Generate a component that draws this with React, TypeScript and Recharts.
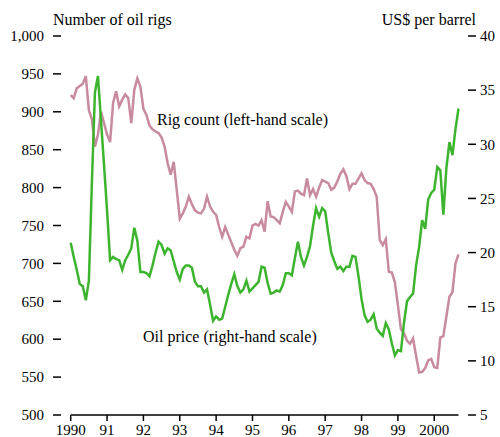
import { Line, LineChart, XAxis, YAxis } from 'recharts';

const FONT = '"Liberation Serif", "Times New Roman", serif';
const RIG_COLOR = '#c78a9f';
const OIL_COLOR = '#3db42e';

// month index 0 = Jan 1990
const YEAR_TICKS = [0, 12, 24, 36, 48, 60, 72, 84, 96, 108, 120];
const YEAR_LABELS = ['1990', '91', '92', '93', '94', '95', '96', '97', '98', '99', '2000'];
const RIG_TICKS = [500, 550, 600, 650, 700, 750, 800, 850, 900, 950, 1000];
const OIL_TICKS = [5, 10, 15, 20, 25, 30, 35, 40];

// number of oil rigs, monthly
const RIGS = [
  922, 918, 931, 934, 937, 947, 902, 890, 854, 870, 900, 885,
  870, 860, 912, 927, 907, 916, 923, 918, 885, 929, 944, 933,
  904, 896, 882, 877, 874, 872, 866, 854, 832, 817, 834, 797,
  759, 766, 775, 788, 778, 770, 767, 766, 772, 788, 775, 768,
  764, 748, 735, 748, 738, 728, 718, 710, 720, 722, 735, 733,
  750, 752, 750, 757, 742, 782, 762, 761, 757, 753, 768, 781,
  775, 768, 795, 796, 792, 790, 812, 790, 798, 788, 800, 810,
  808, 806, 797, 800, 808, 818, 824, 815, 798, 805, 805, 812,
  819, 810, 806, 805, 798, 788, 731, 724, 732, 689, 688, 675,
  645, 613, 608, 598, 594, 601, 578, 556, 557, 562, 572, 574,
  563, 562, 602, 604, 630, 656, 662, 700, 712,
];

// oil price, US$ per barrel, monthly
const OIL = [
  20.9, 19.6, 18.4, 17.1, 16.9, 15.6, 17.4, 26.5, 34.8, 36.3, 32.2, 28.1,
  23.9, 19.3, 19.6, 19.4, 19.3, 18.4, 19.3, 19.8, 20.4, 22.3, 21.1, 18.2,
  18.2, 18.1, 17.8, 18.8, 20.0, 21.0, 20.7, 19.9, 20.4, 20.2, 19.2, 18.2,
  17.5, 18.5, 18.8, 18.8, 18.6, 17.3, 16.9, 16.9, 16.3, 16.6, 15.2, 13.7,
  14.1, 13.8, 13.9, 15.0, 16.1, 17.1, 18.0, 16.9, 16.3, 16.6, 17.4, 16.4,
  16.7, 17.0, 17.3, 18.7, 18.6, 17.2, 16.2, 16.3, 16.5, 16.4, 17.0, 18.1,
  18.1, 17.9, 19.5, 21.0, 19.6, 18.8, 19.6, 20.6, 22.5, 24.1, 23.3, 24.1,
  23.8, 21.8, 20.0, 19.2, 18.5, 18.7, 18.3, 18.7, 18.7, 19.7, 19.6, 17.8,
  15.7, 14.2, 13.6, 13.8, 14.3, 13.0, 12.6, 12.3, 13.5, 12.9, 11.6, 10.5,
  11.0, 10.9, 13.5, 15.5, 15.9, 16.2, 18.8, 20.5, 23.0, 22.2, 24.9, 25.5,
  25.8, 27.9, 27.6, 23.5, 27.8, 30.2, 29.0, 31.4, 33.3,
];

const data = RIGS.map((rigs, m) => ({ m, rigs, oil: OIL[m] }));

function LeftTick({ x, y, payload }: any) {
  return (
    <g>
      <line x1={x + 9} x2={x + 17} y1={y} y2={y} stroke="#000" strokeWidth={1.5} />
      <text x={x} y={y} dy="0.35em" textAnchor="end" fontSize={15} fontFamily={FONT} fill="#000">
        {payload.value.toLocaleString('en-US')}
      </text>
    </g>
  );
}

function RightTick({ x, y, payload }: any) {
  return (
    <g>
      <line x1={x - 12} x2={x - 4} y1={y} y2={y} stroke="#000" strokeWidth={1.5} />
      <text x={x} y={y} dy="0.35em" textAnchor="start" fontSize={15} fontFamily={FONT} fill="#000">
        {payload.value}
      </text>
    </g>
  );
}

export default function App() {
  return (
    <div style={{ position: 'absolute', left: 0, top: 0, width: 500, height: 437, background: '#fff' }}>
      <LineChart width={500} height={437} data={data} margin={{ top: 36, right: 6.5, left: 10.7, bottom: 0 }}>
        <XAxis
          dataKey="m"
          type="number"
          domain={[0, 128]}
          ticks={YEAR_TICKS}
          tickFormatter={(v) => YEAR_LABELS[YEAR_TICKS.indexOf(v)]}
          axisLine={{ stroke: '#000', strokeWidth: 1.5 }}
          tickLine={{ stroke: '#000', strokeWidth: 1.5 }}
          tickSize={6}
          tickMargin={3}
          height={22}
          tick={{ fill: '#000', fontSize: 15, fontFamily: FONT }}
        />
        <YAxis
          yAxisId="rigs"
          orientation="left"
          domain={[500, 1000]}
          ticks={RIG_TICKS}
          width={60}
          axisLine={false}
          tickLine={false}
          tickSize={20}
          tickMargin={6.7}
          tick={<LeftTick />}
        />
        <YAxis
          yAxisId="oil"
          orientation="right"
          domain={[5, 40]}
          ticks={OIL_TICKS}
          width={35}
          axisLine={false}
          tickLine={false}
          tickSize={16}
          tickMargin={5.5}
          tick={<RightTick />}
        />
        <Line
          yAxisId="rigs"
          type="linear"
          dataKey="rigs"
          stroke={RIG_COLOR}
          strokeWidth={2.5}
          dot={false}
          isAnimationActive={false}
        />
        <Line
          yAxisId="oil"
          type="linear"
          dataKey="oil"
          stroke={OIL_COLOR}
          strokeWidth={2.5}
          dot={false}
          isAnimationActive={false}
        />
      </LineChart>
      <svg
        width={500}
        height={437}
        style={{ position: 'absolute', left: 0, top: 0, pointerEvents: 'none' }}
        fontFamily={FONT}
        fontSize={16}
      >
        <text x={53} y={25}>Number of oil rigs</text>
        <text x={476} y={25} textAnchor="end">US$ per barrel</text>
        <text x={157} y={125}>Rig count (left-hand scale)</text>
        <text x={143} y={342}>Oil price (right-hand scale)</text>
      </svg>
    </div>
  );
}
